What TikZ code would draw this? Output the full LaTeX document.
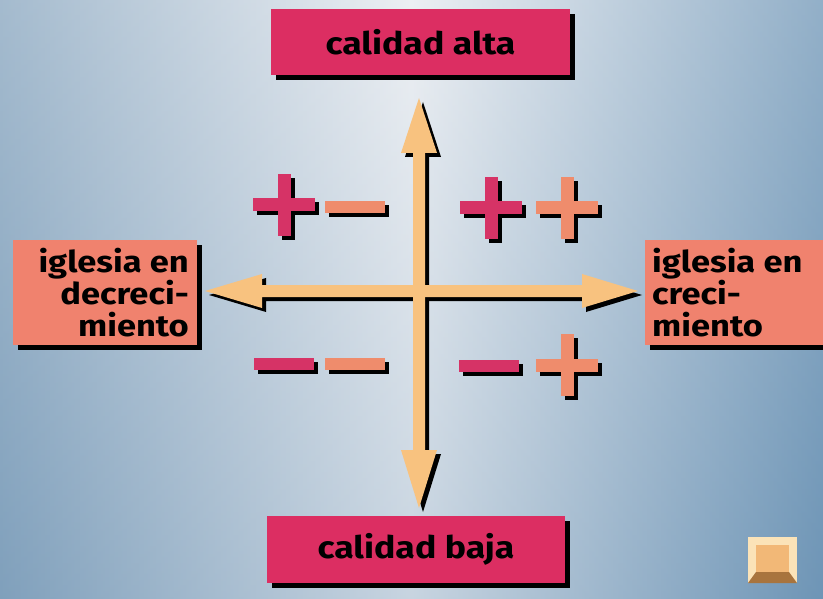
\documentclass[tikz,border=0pt]{standalone}
\usepackage{fontspec}
\setmainfont{Fira Sans}
\newfontfamily\qfont[FakeStretch=1.15]{Fira Sans}
\usetikzlibrary{shadows}
\definecolor{crim}{HTML}{DC2E62}
\definecolor{salm}{HTML}{F0826E}
\definecolor{signcrim}{HTML}{D63366}
\definecolor{signsalm}{HTML}{EF8C6C}
\definecolor{arr}{HTML}{F8C27F}
\definecolor{bgl}{HTML}{86A4BE}
\definecolor{bgm}{HTML}{E6EAEF}
\definecolor{bgr}{HTML}{6E95B6}
\definecolor{btnlight}{HTML}{FBE3B8}
\definecolor{btndark}{HTML}{A8743E}
\definecolor{btnmid}{HTML}{F2B877}
\tikzset{
  qbox/.style={rectangle, inner sep=0pt, text=black,
    font=\qfont\bfseries\fontsize{31}{32}\selectfont,
    drop shadow={shadow xshift=5pt, shadow yshift=-5pt, fill=black, opacity=1}},
  sidebox/.style={qbox, fill=salm},
  sidetxt/.style={inner sep=0pt, font=\qfont\bfseries\fontsize{30}{32}\selectfont},
}
\newcommand\qplus[3]{%
  \fill[black] (#1-31+4,#2-6.5+4) rectangle (#1+31+4,#2+6.5+4);
  \fill[black] (#1-6.5+4,#2-31+4) rectangle (#1+6.5+4,#2+31+4);
  \fill[#3] (#1-31,#2-6.5) rectangle (#1+31,#2+6.5);
  \fill[#3] (#1-6.5,#2-31) rectangle (#1+6.5,#2+31);}
\newcommand\qminus[3]{%
  \fill[black] (#1-30+4,#2-6+4) rectangle (#1+30+4,#2+6+4);
  \fill[#3] (#1-30,#2-6) rectangle (#1+30,#2+6);}
% vertical and horizontal double arrows, offset by #1,#2
\newcommand\varrow[2]{(419+#1,98+#2) -- ++(18,55) -- ++(-12,0) -- ++(0,297) -- ++(12,0) -- (419+#1,508+#2) -- ++(-18,-58) -- ++(12,0) -- ++(0,-297) -- ++(-12,0) -- cycle}
\newcommand\harrow[2]{(205+#1,291+#2) -- ++(57,-17) -- ++(0,11) -- ++(320,0) -- ++(0,-11) -- (638+#1,291+#2) -- ++(-56,17) -- ++(0,-11) -- ++(-320,0) -- ++(0,11) -- cycle}
\begin{document}
\begin{tikzpicture}[x=1pt,y=-1pt]
\useasboundingbox (0,0) rectangle (823,599);
% background
\shade[left color=bgl, right color=bgr, middle color=bgm] (0,0) rectangle (823,599);
\shade[top color=white, bottom color=bgr, opacity=0.25] (0,0) rectangle (823,599);

% boxes
\node[qbox, fill=crim, minimum width=299pt, minimum height=66pt] (top) at (420.5,42) {calidad alta};
\node[qbox, fill=crim, minimum width=298pt, minimum height=67pt] (bot) at (416,549.5) {calidad baja};
\node[sidebox, minimum width=184pt, minimum height=105pt] (left) at (105,292.5) {};
\node[sidetxt, anchor=east, align=right] (lefttxt) at (189,293) {iglesia en\\decreci-\\miento};
\node[sidebox, minimum width=180pt, minimum height=105pt] (right) at (735,292.5) {};
\node[sidetxt, anchor=west, align=left] (righttxt) at (652,293) {iglesia en\\creci-\\miento};

% arrow shadows
\fill[black] \varrow{4}{4};
\fill[black] \harrow{4}{4};
% arrows
\fill[arr] \varrow{0}{0};
\fill[arr] \harrow{0}{0};

% signs
\qplus{284}{205}{signcrim}
\qminus{355}{207}{signsalm}
\qplus{491}{208}{signcrim}
\qplus{567}{208}{signsalm}
\qminus{284}{364}{signcrim}
\qminus{355}{364}{signsalm}
\qminus{489}{366}{signcrim}
\qplus{567}{365}{signsalm}

% small button
\fill[btnlight] (748,537) rectangle (797,583);
\fill[btndark] (748,583) -- (797,583) -- (789,572) -- (756,572) -- cycle;
\fill[btnmid] (756,545) rectangle (789,572);
\end{tikzpicture}
\end{document}
